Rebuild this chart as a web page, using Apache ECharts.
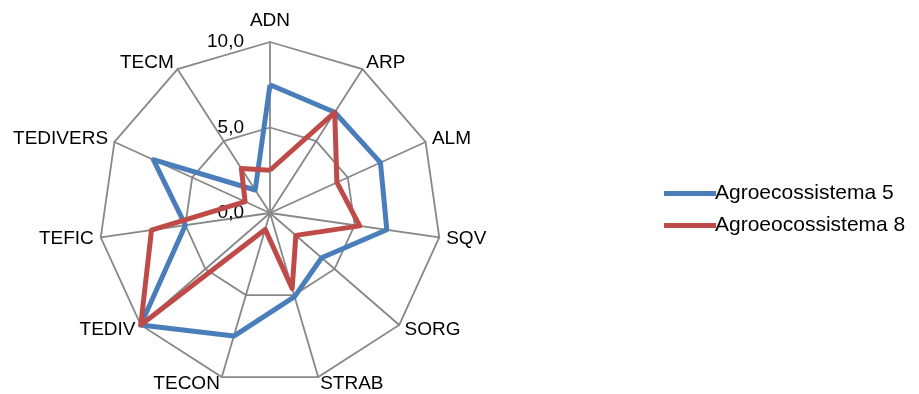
<!DOCTYPE html>
<html>
<head>
<meta charset="utf-8">
<script src="https://cdn.jsdelivr.net/npm/echarts@6/dist/echarts.min.js"></script>
<style>
  html, body { margin: 0; padding: 0; background: #ffffff; }
  #chart { width: 919px; height: 394px; }
</style>
</head>
<body>
<div id="chart"></div>
<script>
// Indicator names, clockwise from the top
const indicators = ['ADN', 'ARP', 'ALM', 'SQV', 'SORG', 'STRAB', 'TECON', 'TEDIV', 'TEFIC', 'TEDIVERS', 'TECM'];
const maxValue = 10;

// Scores per indicator
const agro5 = [7.5, 7.0, 7.1, 6.9, 4.0, 5.1, 7.5, 10.0, 5.0, 7.5, 1.6];
const agro8 = [2.5, 7.0, 4.3, 5.3, 2.0, 4.6, 1.0, 10.0, 7.0, 1.6, 3.1];

const seriesNames = ['Agroecossistema 5', 'Agroeocossistema 8'];
const colors = ['#4A7EBB', '#BE4B48'];

const FONT = '"Liberation Sans", Arial, sans-serif';

// ECharts lays radar indicators out counter-clockwise; keep the first one on top
// and reverse the rest so the axes run clockwise.
const order = [0].concat(indicators.map((_, i) => i).slice(1).reverse());
const reorder = arr => order.map(i => arr[i]);

const chart = echarts.init(document.getElementById('chart'), null, { renderer: 'canvas' });

const indicatorDefs = reorder(indicators).map((name, i) => {
  const def = { name: name, min: 0, max: maxValue };
  // scale labels only along the top axis
  if (i === 0) {
    def.axisLabel = {
      show: true,
      formatter: v => v.toFixed(1).replace('.', ','),
      color: '#000',
      fontFamily: FONT,
      fontSize: 19,
      margin: 26
    };
  }
  return def;
});

chart.setOption({
  animation: false,
  backgroundColor: '#ffffff',
  color: colors,
  legend: {
    orient: 'vertical',
    left: 659,
    top: 178,
    itemWidth: 52,
    itemHeight: 5,
    itemGap: 11,
    icon: 'rect',
    textStyle: { fontFamily: FONT, fontSize: 21, color: '#000', padding: [0, 0, 0, -6] },
    data: seriesNames
  },
  radar: {
    center: [270, 213],
    radius: 171,
    startAngle: 90,
    shape: 'polygon',
    splitNumber: 2,
    indicator: indicatorDefs,
    axisName: {
      color: '#000',
      fontFamily: FONT,
      fontSize: 19,
      // the top name sits a little further out
      formatter: name => name === indicators[0] ? '{top|' + name + '}' : name,
      rich: {
        top: { fontFamily: FONT, fontSize: 19, color: '#000', padding: [0, 0, 5, 0] }
      }
    },
    nameGap: 7,
    axisLabel: { show: false },
    axisLine: { lineStyle: { color: '#888888', width: 1.8 } },
    splitLine: { lineStyle: { color: '#888888', width: 1.8 } },
    splitArea: { show: false },
    axisTick: { show: false }
  },
  series: [{
    type: 'radar',
    symbol: 'none',
    data: [
      { name: seriesNames[0], value: reorder(agro5), lineStyle: { color: colors[0], width: 5 } },
      { name: seriesNames[1], value: reorder(agro8), lineStyle: { color: colors[1], width: 5 } }
    ]
  }]
});
</script>
</body>
</html>
